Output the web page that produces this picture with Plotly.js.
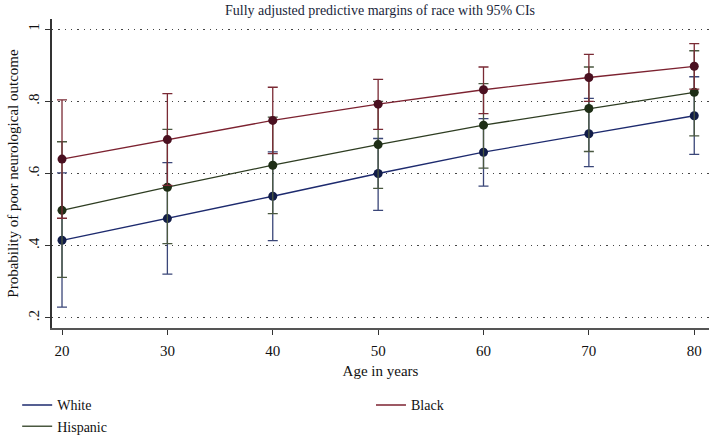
<!DOCTYPE html>
<html>
<head>
<meta charset="utf-8">
<script src="https://cdn.plot.ly/plotly-3.0.1.min.js"></script>
<style>
  body { margin: 0; background: #fff; }
  #chart { width: 709px; height: 435px; }
</style>
</head>
<body>
<div id="chart"></div>
<script>
// Ages and predictive margins (with 95% CI bounds)
var ages = [20, 30, 40, 50, 60, 70, 80];

var white   = [0.415, 0.475, 0.537, 0.600, 0.659, 0.710, 0.760];
var whiteLo = [0.230, 0.321, 0.414, 0.498, 0.565, 0.619, 0.653];
var whiteHi = [0.602, 0.630, 0.660, 0.697, 0.752, 0.808, 0.868];

var black   = [0.640, 0.694, 0.747, 0.792, 0.832, 0.866, 0.897];
var blackLo = [0.476, 0.567, 0.655, 0.722, 0.766, 0.800, 0.834];
var blackHi = [0.804, 0.821, 0.839, 0.861, 0.895, 0.930, 0.960];

var hisp   = [0.498, 0.562, 0.623, 0.680, 0.734, 0.780, 0.825];
var hispLo = [0.312, 0.406, 0.489, 0.559, 0.615, 0.661, 0.704];
var hispHi = [0.688, 0.722, 0.756, 0.800, 0.849, 0.895, 0.940];

var yTicks = [0.2, 0.4, 0.6, 0.8, 1];
var yTickText = [".2", ".4", ".6", ".8", "1"];

var font = "Liberation Serif, Times New Roman, serif";

function series(name, y, lo, hi, lineColor, markColor, barColor) {
  return {
    x: ages, y: y, name: name, type: "scatter", mode: "lines+markers",
    showlegend: false,
    line: {color: lineColor, width: 1.3},
    marker: {color: markColor, size: 9},
    error_y: {
      type: "data", symmetric: false,
      array: hi.map((h, i) => h - y[i]),
      arrayminus: lo.map((l, i) => y[i] - l),
      color: barColor, thickness: 1.3, width: 5
    }
  };
}

// legend-only entries (Stata shows the CI caps in the legend)
function legendEntry(name, color, legend) {
  return {x: [null], y: [null], name: name, type: "scatter", mode: "lines",
          line: {color: color, width: 1.5}, showlegend: true,
          legend: legend, hoverinfo: "skip"};
}

var data = [
  series("White", white, whiteLo, whiteHi, "#1d2a6e", "#111c48", "#3a4678"),
  series("Hispanic", hisp, hispLo, hispHi, "#2e3d22", "#1e2e16", "#4a5840"),
  series("Black", black, blackLo, blackHi, "#7c2230", "#4a1020", "#7a2a34"),
  legendEntry("White", "#1d2a6e", "legend"),
  legendEntry("Hispanic", "#4a5840", "legend"),
  legendEntry("Black", "#7c2230", "legend2")
];

var legendFont = {family: font, size: 14, color: "#111"};

var layout = {
  width: 709, height: 435,
  margin: {l: 52, r: 0, t: 19, b: 107},
  paper_bgcolor: "#fff", plot_bgcolor: "#fff",
  font: {family: font, size: 15, color: "#111"},
  title: {text: "Fully adjusted predictive margins of race with 95% CIs",
          x: 0.536, xanchor: "center", y: 0.988, yanchor: "top",
          font: {family: font, size: 14, color: "#1a1f3a"}},
  xaxis: {
    range: [19.05, 81.4], tickvals: ages, ticks: "outside", ticklen: 5,
    tickcolor: "#333", showline: true, linecolor: "#555", linewidth: 1.5,
    showgrid: false, zeroline: false, ticklabelstandoff: 3,
    tickfont: {family: font, size: 15, color: "#111"},
    title: {text: "Age in years", font: {family: font, size: 15, color: "#111"}, standoff: 8}
  },
  yaxis: {
    range: [0.172, 1.028], tickvals: yTicks, ticktext: yTickText, tickangle: -90,
    ticks: "outside", ticklen: 5, tickcolor: "#333",
    showline: true, linecolor: "#333", linewidth: 1.5,
    showgrid: true, gridcolor: "#444", griddash: "1.3px,5px", gridwidth: 1.3,
    zeroline: false,
    tickfont: {family: font, size: 15, color: "#111"},
    title: {text: "Probability of poor neurological outcome",
            font: {family: font, size: 15, color: "#111"}, standoff: 4}
  },
  legend: {
    orientation: "v", x: -0.053, xanchor: "left",
    yref: "container", y: 0.105, yanchor: "top",
    tracegroupgap: 0, itemwidth: 30, font: legendFont
  },
  legend2: {
    orientation: "v", x: 0.4855, xanchor: "left",
    yref: "container", y: 0.105, yanchor: "top",
    itemwidth: 30, font: legendFont
  }
};

Plotly.newPlot("chart", data, layout, {displayModeBar: false});
</script>
</body>
</html>
